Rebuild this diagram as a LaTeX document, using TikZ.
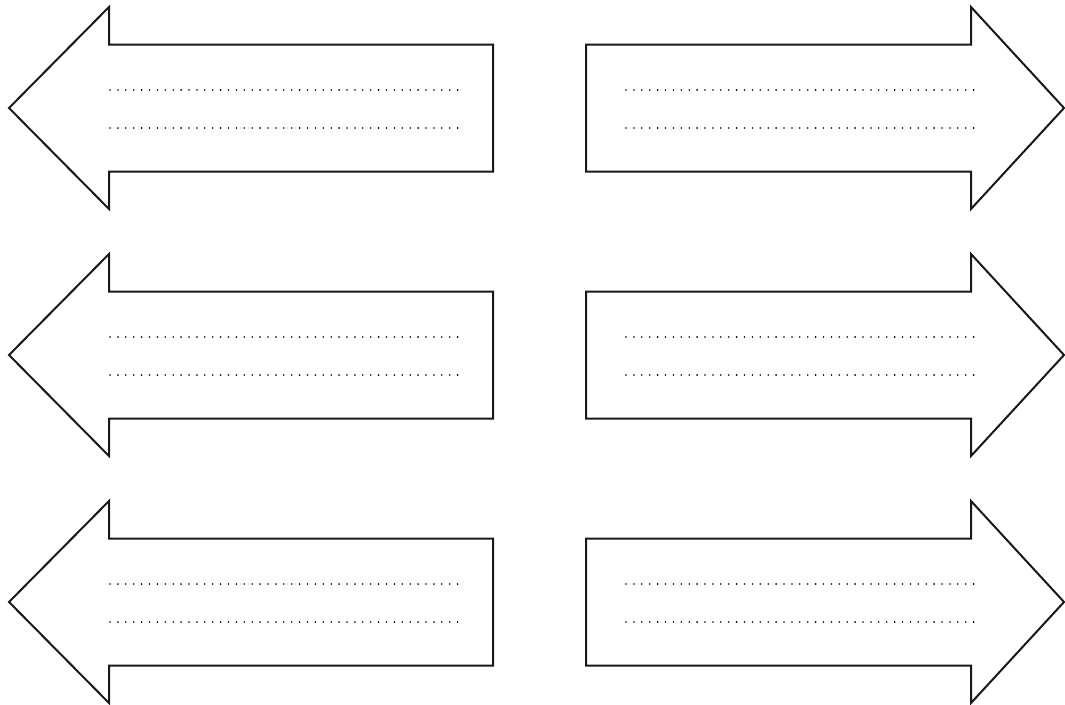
\documentclass[tikz,border=0pt]{standalone}
\tikzstyle{arrow-outline} = [draw=black!90, line width=2pt, line join=miter, fill=white]
\tikzstyle{write-line} = [draw=black, line width=1.8pt, line cap=round,
    dash pattern=on 0pt off 7.9pt]

\begin{document}
\begin{tikzpicture}[x=1pt, y=-1pt]
\useasboundingbox (0,0) rectangle (1065,704);
\foreach \c in {108,355,602}{
  % left pointing arrow
  \draw[arrow-outline] (9,\c) -- (109,\c-101) -- (109,\c-63.5) -- (493,\c-63.5)
      -- (493,\c+63.5) -- (109,\c+63.5) -- (109,\c+101) -- cycle;
  \draw[write-line] (110,\c-18) -- (458,\c-18);
  \draw[write-line] (110,\c+20) -- (458,\c+20);
  % right pointing arrow
  \draw[arrow-outline] (586,\c-63.5) -- (971,\c-63.5) -- (971,\c-101) -- (1064,\c)
      -- (971,\c+101) -- (971,\c+63.5) -- (586,\c+63.5) -- cycle;
  \draw[write-line] (626,\c-18) -- (974,\c-18);
  \draw[write-line] (626,\c+20) -- (974,\c+20);
}
\end{tikzpicture}
\end{document}
